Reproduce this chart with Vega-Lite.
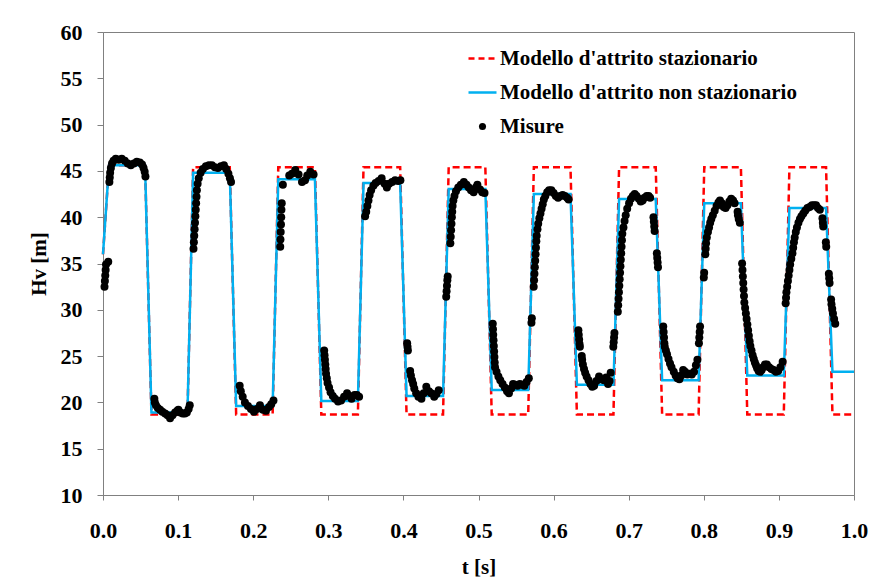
{
  "$schema": "https://vega.github.io/schema/vega-lite/v6.json",
  "width": 751,
  "height": 463,
  "autosize": {"type": "none"},
  "padding": {"left": 103, "top": 32, "right": 15, "bottom": 86},
  "background": "white",
  "config": {"view": {"stroke": "#808080", "strokeWidth": 1}, "font": "Liberation Serif"},
  "datasets": {
    "red": [
      {"t": 0, "v": 36.0}, {"t": 0.008, "v": 45.6}, {"t": 0.056, "v": 45.6}, {"t": 0.0645, "v": 18.7},
      {"t": 0.1125, "v": 18.7}, {"t": 0.12, "v": 45.4}, {"t": 0.1688, "v": 45.4}, {"t": 0.1773, "v": 18.7},
      {"t": 0.2259, "v": 18.7}, {"t": 0.2334, "v": 45.4}, {"t": 0.2822, "v": 45.4}, {"t": 0.2907, "v": 18.7},
      {"t": 0.3394, "v": 18.7}, {"t": 0.3469, "v": 45.4}, {"t": 0.3957, "v": 45.4}, {"t": 0.4042, "v": 18.7},
      {"t": 0.4528, "v": 18.7}, {"t": 0.4603, "v": 45.4}, {"t": 0.5091, "v": 45.4}, {"t": 0.5176, "v": 18.7},
      {"t": 0.5662, "v": 18.7}, {"t": 0.5737, "v": 45.4}, {"t": 0.6225, "v": 45.4}, {"t": 0.631, "v": 18.7},
      {"t": 0.6797, "v": 18.7}, {"t": 0.6872, "v": 45.4}, {"t": 0.736, "v": 45.4}, {"t": 0.7445, "v": 18.7},
      {"t": 0.7931, "v": 18.7}, {"t": 0.8006, "v": 45.4}, {"t": 0.8494, "v": 45.4}, {"t": 0.8579, "v": 18.7},
      {"t": 0.9065, "v": 18.7}, {"t": 0.914, "v": 45.4}, {"t": 0.9628, "v": 45.4}, {"t": 0.9713, "v": 18.7},
      {"t": 1.0, "v": 18.7}
    ],
    "blue": [
      {"t": 0, "v": 36.0}, {"t": 0.008, "v": 45.6}, {"t": 0.056, "v": 45.6}, {"t": 0.0645, "v": 18.9},
      {"t": 0.1125, "v": 18.9}, {"t": 0.12, "v": 44.8}, {"t": 0.1688, "v": 44.8}, {"t": 0.1773, "v": 19.6},
      {"t": 0.2259, "v": 19.6}, {"t": 0.2334, "v": 44.1}, {"t": 0.2822, "v": 44.1}, {"t": 0.2907, "v": 20.15},
      {"t": 0.3394, "v": 20.15}, {"t": 0.3469, "v": 43.7}, {"t": 0.3957, "v": 43.7}, {"t": 0.4042, "v": 20.7},
      {"t": 0.4528, "v": 20.7}, {"t": 0.4603, "v": 43.05}, {"t": 0.5091, "v": 43.05}, {"t": 0.5176, "v": 21.35},
      {"t": 0.5662, "v": 21.35}, {"t": 0.5737, "v": 42.5}, {"t": 0.6225, "v": 42.5}, {"t": 0.631, "v": 21.9},
      {"t": 0.6797, "v": 21.9}, {"t": 0.6872, "v": 41.97}, {"t": 0.736, "v": 41.97}, {"t": 0.7445, "v": 22.4},
      {"t": 0.7931, "v": 22.4}, {"t": 0.8006, "v": 41.5}, {"t": 0.8494, "v": 41.5}, {"t": 0.8579, "v": 22.9},
      {"t": 0.9065, "v": 22.9}, {"t": 0.914, "v": 41.0}, {"t": 0.9628, "v": 41.0}, {"t": 0.9713, "v": 23.3},
      {"t": 1.0, "v": 23.3}
    ],
    "mis": [
      {"t": 0.002, "v": 32.5}, {"t": 0.0025, "v": 33.1}, {"t": 0.003, "v": 33.7}, {"t": 0.0035, "v": 34.3}, {"t": 0.004, "v": 34.9}, {"t": 0.007, "v": 35.2},
      {"t": 0.0085, "v": 43.8}, {"t": 0.009, "v": 44.3}, {"t": 0.0095, "v": 44.8}, {"t": 0.0105, "v": 45.3}, {"t": 0.012, "v": 45.8}, {"t": 0.014, "v": 46.1}, {"t": 0.017, "v": 46.3}, {"t": 0.021, "v": 46.2}, {"t": 0.025, "v": 46.3}, {"t": 0.029, "v": 46.1}, {"t": 0.033, "v": 45.8}, {"t": 0.037, "v": 45.6}, {"t": 0.041, "v": 45.8}, {"t": 0.045, "v": 46.0}, {"t": 0.049, "v": 45.9}, {"t": 0.052, "v": 45.7}, {"t": 0.054, "v": 45.3}, {"t": 0.0555, "v": 44.9}, {"t": 0.0565, "v": 44.4},
      {"t": 0.0684, "v": 20.4}, {"t": 0.069, "v": 20.0}, {"t": 0.0705, "v": 19.7}, {"t": 0.073, "v": 19.4}, {"t": 0.076, "v": 19.2}, {"t": 0.079, "v": 19.0}, {"t": 0.0827, "v": 18.8}, {"t": 0.086, "v": 18.6}, {"t": 0.0893, "v": 18.3}, {"t": 0.0925, "v": 18.6}, {"t": 0.096, "v": 18.9}, {"t": 0.099, "v": 19.1}, {"t": 0.1004, "v": 19.2}, {"t": 0.103, "v": 18.9}, {"t": 0.106, "v": 18.8}, {"t": 0.109, "v": 18.8}, {"t": 0.1116, "v": 18.9}, {"t": 0.114, "v": 19.3}, {"t": 0.1155, "v": 19.7},
      {"t": 0.1205, "v": 36.6}, {"t": 0.121, "v": 37.3}, {"t": 0.1215, "v": 38.0}, {"t": 0.122, "v": 38.7}, {"t": 0.1225, "v": 39.4}, {"t": 0.123, "v": 40.1}, {"t": 0.1235, "v": 40.8}, {"t": 0.124, "v": 41.5}, {"t": 0.1245, "v": 42.2}, {"t": 0.125, "v": 42.9}, {"t": 0.126, "v": 43.6}, {"t": 0.1275, "v": 44.2}, {"t": 0.13, "v": 44.8}, {"t": 0.133, "v": 45.2}, {"t": 0.137, "v": 45.5}, {"t": 0.141, "v": 45.6}, {"t": 0.145, "v": 45.6}, {"t": 0.149, "v": 45.4}, {"t": 0.153, "v": 45.3}, {"t": 0.157, "v": 45.5}, {"t": 0.161, "v": 45.6}, {"t": 0.164, "v": 45.2}, {"t": 0.167, "v": 44.7}, {"t": 0.169, "v": 44.2}, {"t": 0.1705, "v": 43.8},
      {"t": 0.182, "v": 21.8}, {"t": 0.1835, "v": 21.2}, {"t": 0.186, "v": 20.6}, {"t": 0.189, "v": 20.0}, {"t": 0.193, "v": 19.6}, {"t": 0.197, "v": 19.3}, {"t": 0.201, "v": 19.0}, {"t": 0.205, "v": 19.3}, {"t": 0.209, "v": 19.7}, {"t": 0.213, "v": 19.2}, {"t": 0.217, "v": 19.1}, {"t": 0.221, "v": 19.5}, {"t": 0.224, "v": 19.8}, {"t": 0.227, "v": 20.2},
      {"t": 0.236, "v": 36.8}, {"t": 0.2363, "v": 37.6}, {"t": 0.2366, "v": 38.4}, {"t": 0.237, "v": 39.2}, {"t": 0.2373, "v": 40.0}, {"t": 0.2376, "v": 40.8}, {"t": 0.238, "v": 41.5}, {"t": 0.2395, "v": 43.5}, {"t": 0.248, "v": 44.5}, {"t": 0.2516, "v": 44.7}, {"t": 0.256, "v": 45.1}, {"t": 0.2604, "v": 44.6}, {"t": 0.265, "v": 43.8}, {"t": 0.269, "v": 44.0}, {"t": 0.272, "v": 44.5}, {"t": 0.276, "v": 44.9}, {"t": 0.2804, "v": 44.6},
      {"t": 0.2945, "v": 25.6}, {"t": 0.295, "v": 25.1}, {"t": 0.2955, "v": 24.6}, {"t": 0.296, "v": 24.1}, {"t": 0.2965, "v": 23.6}, {"t": 0.297, "v": 23.1}, {"t": 0.298, "v": 22.6}, {"t": 0.299, "v": 22.1}, {"t": 0.301, "v": 21.6}, {"t": 0.303, "v": 21.1}, {"t": 0.306, "v": 20.7}, {"t": 0.309, "v": 20.4}, {"t": 0.313, "v": 20.1}, {"t": 0.317, "v": 20.2}, {"t": 0.321, "v": 20.6}, {"t": 0.325, "v": 21.0}, {"t": 0.328, "v": 20.7}, {"t": 0.331, "v": 20.4}, {"t": 0.335, "v": 20.8}, {"t": 0.338, "v": 20.8}, {"t": 0.341, "v": 20.6},
      {"t": 0.349, "v": 40.1}, {"t": 0.3505, "v": 40.6}, {"t": 0.352, "v": 41.2}, {"t": 0.3535, "v": 41.8}, {"t": 0.355, "v": 42.4}, {"t": 0.357, "v": 42.9}, {"t": 0.36, "v": 43.4}, {"t": 0.363, "v": 43.7}, {"t": 0.367, "v": 43.9}, {"t": 0.371, "v": 44.2}, {"t": 0.375, "v": 43.6}, {"t": 0.378, "v": 43.2}, {"t": 0.381, "v": 43.6}, {"t": 0.385, "v": 43.8}, {"t": 0.389, "v": 44.0}, {"t": 0.393, "v": 43.9}, {"t": 0.396, "v": 44.0},
      {"t": 0.405, "v": 26.4}, {"t": 0.4055, "v": 26.0}, {"t": 0.406, "v": 25.6}, {"t": 0.409, "v": 23.4}, {"t": 0.41, "v": 22.9}, {"t": 0.4115, "v": 22.4}, {"t": 0.413, "v": 22.0}, {"t": 0.4145, "v": 21.5}, {"t": 0.417, "v": 21.0}, {"t": 0.42, "v": 20.6}, {"t": 0.424, "v": 20.4}, {"t": 0.427, "v": 21.0}, {"t": 0.4305, "v": 21.7}, {"t": 0.434, "v": 21.2}, {"t": 0.437, "v": 21.0}, {"t": 0.441, "v": 20.6}, {"t": 0.444, "v": 20.9}, {"t": 0.447, "v": 21.3},
      {"t": 0.457, "v": 31.4}, {"t": 0.4575, "v": 32.0}, {"t": 0.458, "v": 32.6}, {"t": 0.4585, "v": 33.2}, {"t": 0.459, "v": 33.6}, {"t": 0.4625, "v": 37.2}, {"t": 0.463, "v": 37.9}, {"t": 0.4635, "v": 38.6}, {"t": 0.464, "v": 39.3}, {"t": 0.4645, "v": 40.0}, {"t": 0.465, "v": 40.6}, {"t": 0.4655, "v": 41.2}, {"t": 0.4665, "v": 41.8}, {"t": 0.468, "v": 42.3}, {"t": 0.47, "v": 42.8}, {"t": 0.473, "v": 43.2}, {"t": 0.4765, "v": 43.5}, {"t": 0.4805, "v": 43.8}, {"t": 0.484, "v": 43.5}, {"t": 0.487, "v": 43.2}, {"t": 0.49, "v": 42.9}, {"t": 0.4935, "v": 42.7}, {"t": 0.4965, "v": 43.2}, {"t": 0.4985, "v": 43.5}, {"t": 0.502, "v": 43.0}, {"t": 0.505, "v": 42.7}, {"t": 0.508, "v": 42.6},
      {"t": 0.519, "v": 28.5}, {"t": 0.5193, "v": 27.9}, {"t": 0.5196, "v": 27.3}, {"t": 0.52, "v": 26.7}, {"t": 0.5204, "v": 26.1}, {"t": 0.5208, "v": 25.5}, {"t": 0.5212, "v": 24.9}, {"t": 0.5216, "v": 24.3}, {"t": 0.522, "v": 23.8}, {"t": 0.524, "v": 23.3}, {"t": 0.5265, "v": 22.8}, {"t": 0.529, "v": 22.4}, {"t": 0.532, "v": 22.0}, {"t": 0.535, "v": 21.6}, {"t": 0.538, "v": 21.2}, {"t": 0.5405, "v": 21.0}, {"t": 0.5435, "v": 21.5}, {"t": 0.546, "v": 22.0}, {"t": 0.549, "v": 21.9}, {"t": 0.552, "v": 21.8}, {"t": 0.555, "v": 22.0}, {"t": 0.558, "v": 21.9}, {"t": 0.561, "v": 21.8}, {"t": 0.564, "v": 22.2}, {"t": 0.567, "v": 22.6},
      {"t": 0.5705, "v": 28.6}, {"t": 0.571, "v": 29.1}, {"t": 0.5735, "v": 32.5}, {"t": 0.574, "v": 33.2}, {"t": 0.5745, "v": 33.9}, {"t": 0.575, "v": 34.6}, {"t": 0.5755, "v": 35.3}, {"t": 0.576, "v": 36.0}, {"t": 0.5765, "v": 36.7}, {"t": 0.577, "v": 37.4}, {"t": 0.5775, "v": 38.0}, {"t": 0.5785, "v": 38.7}, {"t": 0.5795, "v": 39.3}, {"t": 0.581, "v": 39.9}, {"t": 0.5825, "v": 40.4}, {"t": 0.584, "v": 40.9}, {"t": 0.5855, "v": 41.4}, {"t": 0.587, "v": 41.9}, {"t": 0.589, "v": 42.3}, {"t": 0.5915, "v": 42.7}, {"t": 0.594, "v": 42.9}, {"t": 0.597, "v": 42.9}, {"t": 0.6, "v": 42.6}, {"t": 0.603, "v": 42.3}, {"t": 0.606, "v": 42.1}, {"t": 0.609, "v": 42.3}, {"t": 0.612, "v": 42.4}, {"t": 0.615, "v": 42.3}, {"t": 0.618, "v": 42.1}, {"t": 0.62, "v": 41.9},
      {"t": 0.633, "v": 27.8}, {"t": 0.6335, "v": 27.3}, {"t": 0.634, "v": 26.8}, {"t": 0.6345, "v": 26.3}, {"t": 0.635, "v": 26.0}, {"t": 0.6375, "v": 25.0}, {"t": 0.638, "v": 24.6}, {"t": 0.639, "v": 24.1}, {"t": 0.6405, "v": 23.6}, {"t": 0.642, "v": 23.2}, {"t": 0.644, "v": 22.8}, {"t": 0.6465, "v": 22.4}, {"t": 0.649, "v": 22.0}, {"t": 0.6515, "v": 21.7}, {"t": 0.654, "v": 21.8}, {"t": 0.657, "v": 22.3}, {"t": 0.6605, "v": 22.8}, {"t": 0.6635, "v": 22.5}, {"t": 0.667, "v": 22.4}, {"t": 0.67, "v": 22.7}, {"t": 0.6725, "v": 22.0}, {"t": 0.6745, "v": 22.3}, {"t": 0.676, "v": 23.2},
      {"t": 0.6795, "v": 26.0}, {"t": 0.68, "v": 26.5}, {"t": 0.6805, "v": 27.0}, {"t": 0.681, "v": 27.5}, {"t": 0.6855, "v": 29.8}, {"t": 0.686, "v": 30.5}, {"t": 0.6865, "v": 31.2}, {"t": 0.687, "v": 31.9}, {"t": 0.6875, "v": 32.6}, {"t": 0.688, "v": 33.3}, {"t": 0.6885, "v": 34.0}, {"t": 0.689, "v": 34.7}, {"t": 0.6895, "v": 35.4}, {"t": 0.69, "v": 36.1}, {"t": 0.6905, "v": 36.8}, {"t": 0.691, "v": 37.5}, {"t": 0.6915, "v": 38.2}, {"t": 0.693, "v": 38.9}, {"t": 0.6945, "v": 39.6}, {"t": 0.696, "v": 40.2}, {"t": 0.698, "v": 40.9}, {"t": 0.7005, "v": 41.5}, {"t": 0.703, "v": 42.0}, {"t": 0.7055, "v": 42.3}, {"t": 0.708, "v": 42.5}, {"t": 0.7105, "v": 42.3}, {"t": 0.7135, "v": 42.0}, {"t": 0.716, "v": 41.7}, {"t": 0.7185, "v": 41.8}, {"t": 0.721, "v": 42.1}, {"t": 0.724, "v": 42.3}, {"t": 0.7265, "v": 42.3}, {"t": 0.7285, "v": 42.1}, {"t": 0.733, "v": 40.0}, {"t": 0.7335, "v": 39.5}, {"t": 0.734, "v": 39.0}, {"t": 0.7345, "v": 38.5}, {"t": 0.7375, "v": 36.1}, {"t": 0.738, "v": 35.6}, {"t": 0.7385, "v": 35.1}, {"t": 0.739, "v": 34.6},
      {"t": 0.746, "v": 28.2}, {"t": 0.7465, "v": 27.6}, {"t": 0.747, "v": 27.0}, {"t": 0.7475, "v": 26.4}, {"t": 0.748, "v": 26.0}, {"t": 0.7495, "v": 25.6}, {"t": 0.751, "v": 25.2}, {"t": 0.753, "v": 24.7}, {"t": 0.755, "v": 24.2}, {"t": 0.757, "v": 23.8}, {"t": 0.76, "v": 23.3}, {"t": 0.7625, "v": 22.9}, {"t": 0.765, "v": 22.6}, {"t": 0.7675, "v": 22.5}, {"t": 0.77, "v": 22.9}, {"t": 0.7725, "v": 23.5}, {"t": 0.775, "v": 23.3}, {"t": 0.778, "v": 23.0}, {"t": 0.781, "v": 23.1}, {"t": 0.784, "v": 23.0}, {"t": 0.787, "v": 23.3}, {"t": 0.7895, "v": 24.0}, {"t": 0.7915, "v": 24.6},
      {"t": 0.7935, "v": 26.4}, {"t": 0.794, "v": 27.0}, {"t": 0.7945, "v": 27.6}, {"t": 0.795, "v": 28.2}, {"t": 0.8, "v": 33.5}, {"t": 0.8005, "v": 34.0}, {"t": 0.802, "v": 36.0}, {"t": 0.8025, "v": 36.6}, {"t": 0.803, "v": 37.2}, {"t": 0.804, "v": 37.8}, {"t": 0.8055, "v": 38.4}, {"t": 0.807, "v": 38.9}, {"t": 0.8085, "v": 39.4}, {"t": 0.81, "v": 39.8}, {"t": 0.812, "v": 40.2}, {"t": 0.8145, "v": 40.7}, {"t": 0.817, "v": 41.2}, {"t": 0.8195, "v": 41.6}, {"t": 0.8215, "v": 41.8}, {"t": 0.824, "v": 41.5}, {"t": 0.8265, "v": 41.1}, {"t": 0.829, "v": 41.0}, {"t": 0.8315, "v": 41.3}, {"t": 0.834, "v": 41.7}, {"t": 0.8365, "v": 42.0}, {"t": 0.839, "v": 41.8}, {"t": 0.841, "v": 41.5}, {"t": 0.845, "v": 40.6}, {"t": 0.8455, "v": 40.2}, {"t": 0.8465, "v": 39.8}, {"t": 0.848, "v": 39.4},
      {"t": 0.851, "v": 35.0}, {"t": 0.8515, "v": 34.3}, {"t": 0.852, "v": 33.6}, {"t": 0.8525, "v": 32.9}, {"t": 0.853, "v": 32.2}, {"t": 0.8535, "v": 31.5}, {"t": 0.854, "v": 30.8}, {"t": 0.855, "v": 30.2}, {"t": 0.856, "v": 29.6}, {"t": 0.857, "v": 29.0}, {"t": 0.858, "v": 28.4}, {"t": 0.859, "v": 27.8}, {"t": 0.86, "v": 27.2}, {"t": 0.861, "v": 26.6}, {"t": 0.862, "v": 26.1}, {"t": 0.8635, "v": 25.6}, {"t": 0.865, "v": 25.1}, {"t": 0.8665, "v": 24.7}, {"t": 0.868, "v": 24.3}, {"t": 0.8695, "v": 24.0}, {"t": 0.871, "v": 23.7}, {"t": 0.873, "v": 23.4}, {"t": 0.875, "v": 23.3}, {"t": 0.877, "v": 23.5}, {"t": 0.879, "v": 23.8}, {"t": 0.8815, "v": 24.1}, {"t": 0.884, "v": 24.1}, {"t": 0.887, "v": 23.8}, {"t": 0.89, "v": 23.6}, {"t": 0.893, "v": 23.5}, {"t": 0.896, "v": 23.3}, {"t": 0.899, "v": 23.4}, {"t": 0.902, "v": 23.8}, {"t": 0.905, "v": 24.4},
      {"t": 0.909, "v": 30.7}, {"t": 0.9095, "v": 31.3}, {"t": 0.91, "v": 31.9}, {"t": 0.911, "v": 32.5}, {"t": 0.912, "v": 33.1}, {"t": 0.913, "v": 33.7}, {"t": 0.914, "v": 34.3}, {"t": 0.915, "v": 34.9}, {"t": 0.9165, "v": 35.5}, {"t": 0.918, "v": 36.1}, {"t": 0.919, "v": 36.7}, {"t": 0.92, "v": 37.3}, {"t": 0.921, "v": 37.8}, {"t": 0.9225, "v": 38.4}, {"t": 0.924, "v": 38.9}, {"t": 0.926, "v": 39.4}, {"t": 0.928, "v": 39.8}, {"t": 0.93, "v": 40.1}, {"t": 0.9325, "v": 40.4}, {"t": 0.935, "v": 40.7}, {"t": 0.938, "v": 41.0}, {"t": 0.941, "v": 41.1}, {"t": 0.944, "v": 41.3}, {"t": 0.947, "v": 41.3}, {"t": 0.9495, "v": 41.3}, {"t": 0.952, "v": 41.0}, {"t": 0.9545, "v": 40.8}, {"t": 0.958, "v": 39.9}, {"t": 0.9585, "v": 39.4}, {"t": 0.959, "v": 39.0}, {"t": 0.9625, "v": 37.3}, {"t": 0.963, "v": 36.8}, {"t": 0.9665, "v": 33.9}, {"t": 0.967, "v": 33.4}, {"t": 0.9675, "v": 32.9}, {"t": 0.9695, "v": 31.1}, {"t": 0.97, "v": 30.6}, {"t": 0.971, "v": 30.1}, {"t": 0.972, "v": 29.6}, {"t": 0.9735, "v": 29.0}, {"t": 0.975, "v": 28.5}
    ]
  },
  "encoding": {
    "x": {
      "field": "t", "type": "quantitative",
      "scale": {"domain": [0, 1], "nice": false, "zero": false},
      "axis": {
        "title": "t [s]", "values": [0, 0.1, 0.2, 0.3, 0.4, 0.5, 0.6, 0.7, 0.8, 0.9, 1.0], "format": ".1f",
        "grid": false, "domainColor": "#808080", "tickColor": "#808080", "tickSize": 5,
        "labelFont": "Liberation Serif", "labelFontSize": 22, "labelFontWeight": "bold", "labelColor": "black",
        "labelPadding": 20, "labelFlush": false, "labelOverlap": false,
        "titleFont": "Liberation Serif", "titleFontSize": 21, "titleFontWeight": "bold", "titleColor": "black", "titlePadding": 15
      }
    },
    "y": {
      "field": "v", "type": "quantitative",
      "scale": {"domain": [10, 60], "nice": false, "zero": false},
      "axis": {
        "title": "Hv [m]", "values": [10, 15, 20, 25, 30, 35, 40, 45, 50, 55, 60],
        "grid": false, "domainColor": "#808080", "tickColor": "#808080", "tickSize": 6,
        "labelFont": "Liberation Serif", "labelFontSize": 22, "labelFontWeight": "bold", "labelColor": "black",
        "labelPadding": 15, "labelFlush": false, "labelOverlap": false,
        "titleFont": "Liberation Serif", "titleFontSize": 21, "titleFontWeight": "bold", "titleColor": "black", "titlePadding": 11
      }
    }
  },
  "layer": [
    {
      "data": {"name": "red"},
      "mark": {"type": "line", "strokeDash": [7, 4], "strokeWidth": 2.5},
      "encoding": {
        "color": {
          "datum": "Modello d'attrito stazionario", "type": "nominal",
          "scale": {"domain": ["Modello d'attrito stazionario", "Modello d'attrito non stazionario", "Misure"], "range": ["#FF0000", "#00B0F0", "#000000"]},
          "legend": {
            "title": null, "orient": "none", "legendX": 369, "legendY": 16, "padding": 0,
            "symbolType": "stroke", "symbolSize": 784, "symbolStrokeWidth": 2.5,
            "labelFont": "Liberation Serif", "labelFontSize": 21, "labelFontWeight": "bold", "labelColor": "black",
            "labelLimit": 500, "labelOffset": 7, "rowPadding": 12,
            "encode": {
              "symbols": {
                "update": {
                  "shape": {"signal": "datum.value === 'Misure' ? 'circle' : 'stroke'"},
                  "size": {"signal": "datum.value === 'Misure' ? 50 : 784"},
                  "strokeDash": {"signal": "datum.index === 0 ? [6, 4] : [1, 0]"},
                  "strokeWidth": {"signal": "datum.value === 'Misure' ? 0 : 2.5"},
                  "stroke": {"signal": "datum.index === 0 ? '#FF0000' : (datum.index === 1 ? '#00B0F0' : '#000000')"},
                  "fill": {"signal": "datum.value === 'Misure' ? '#000000' : 'transparent'"},
                  "opacity": {"value": 1}
                }
              }
            }
          }
        }
      }
    },
    {
      "data": {"name": "blue"},
      "mark": {"type": "line", "strokeWidth": 2.5},
      "encoding": {"color": {"datum": "Modello d'attrito non stazionario", "type": "nominal"}}
    },
    {
      "data": {"name": "mis"},
      "mark": {"type": "point", "filled": true, "size": 64, "opacity": 1, "shape": "circle"},
      "encoding": {"color": {"datum": "Misure", "type": "nominal"}}
    }
  ]
}
